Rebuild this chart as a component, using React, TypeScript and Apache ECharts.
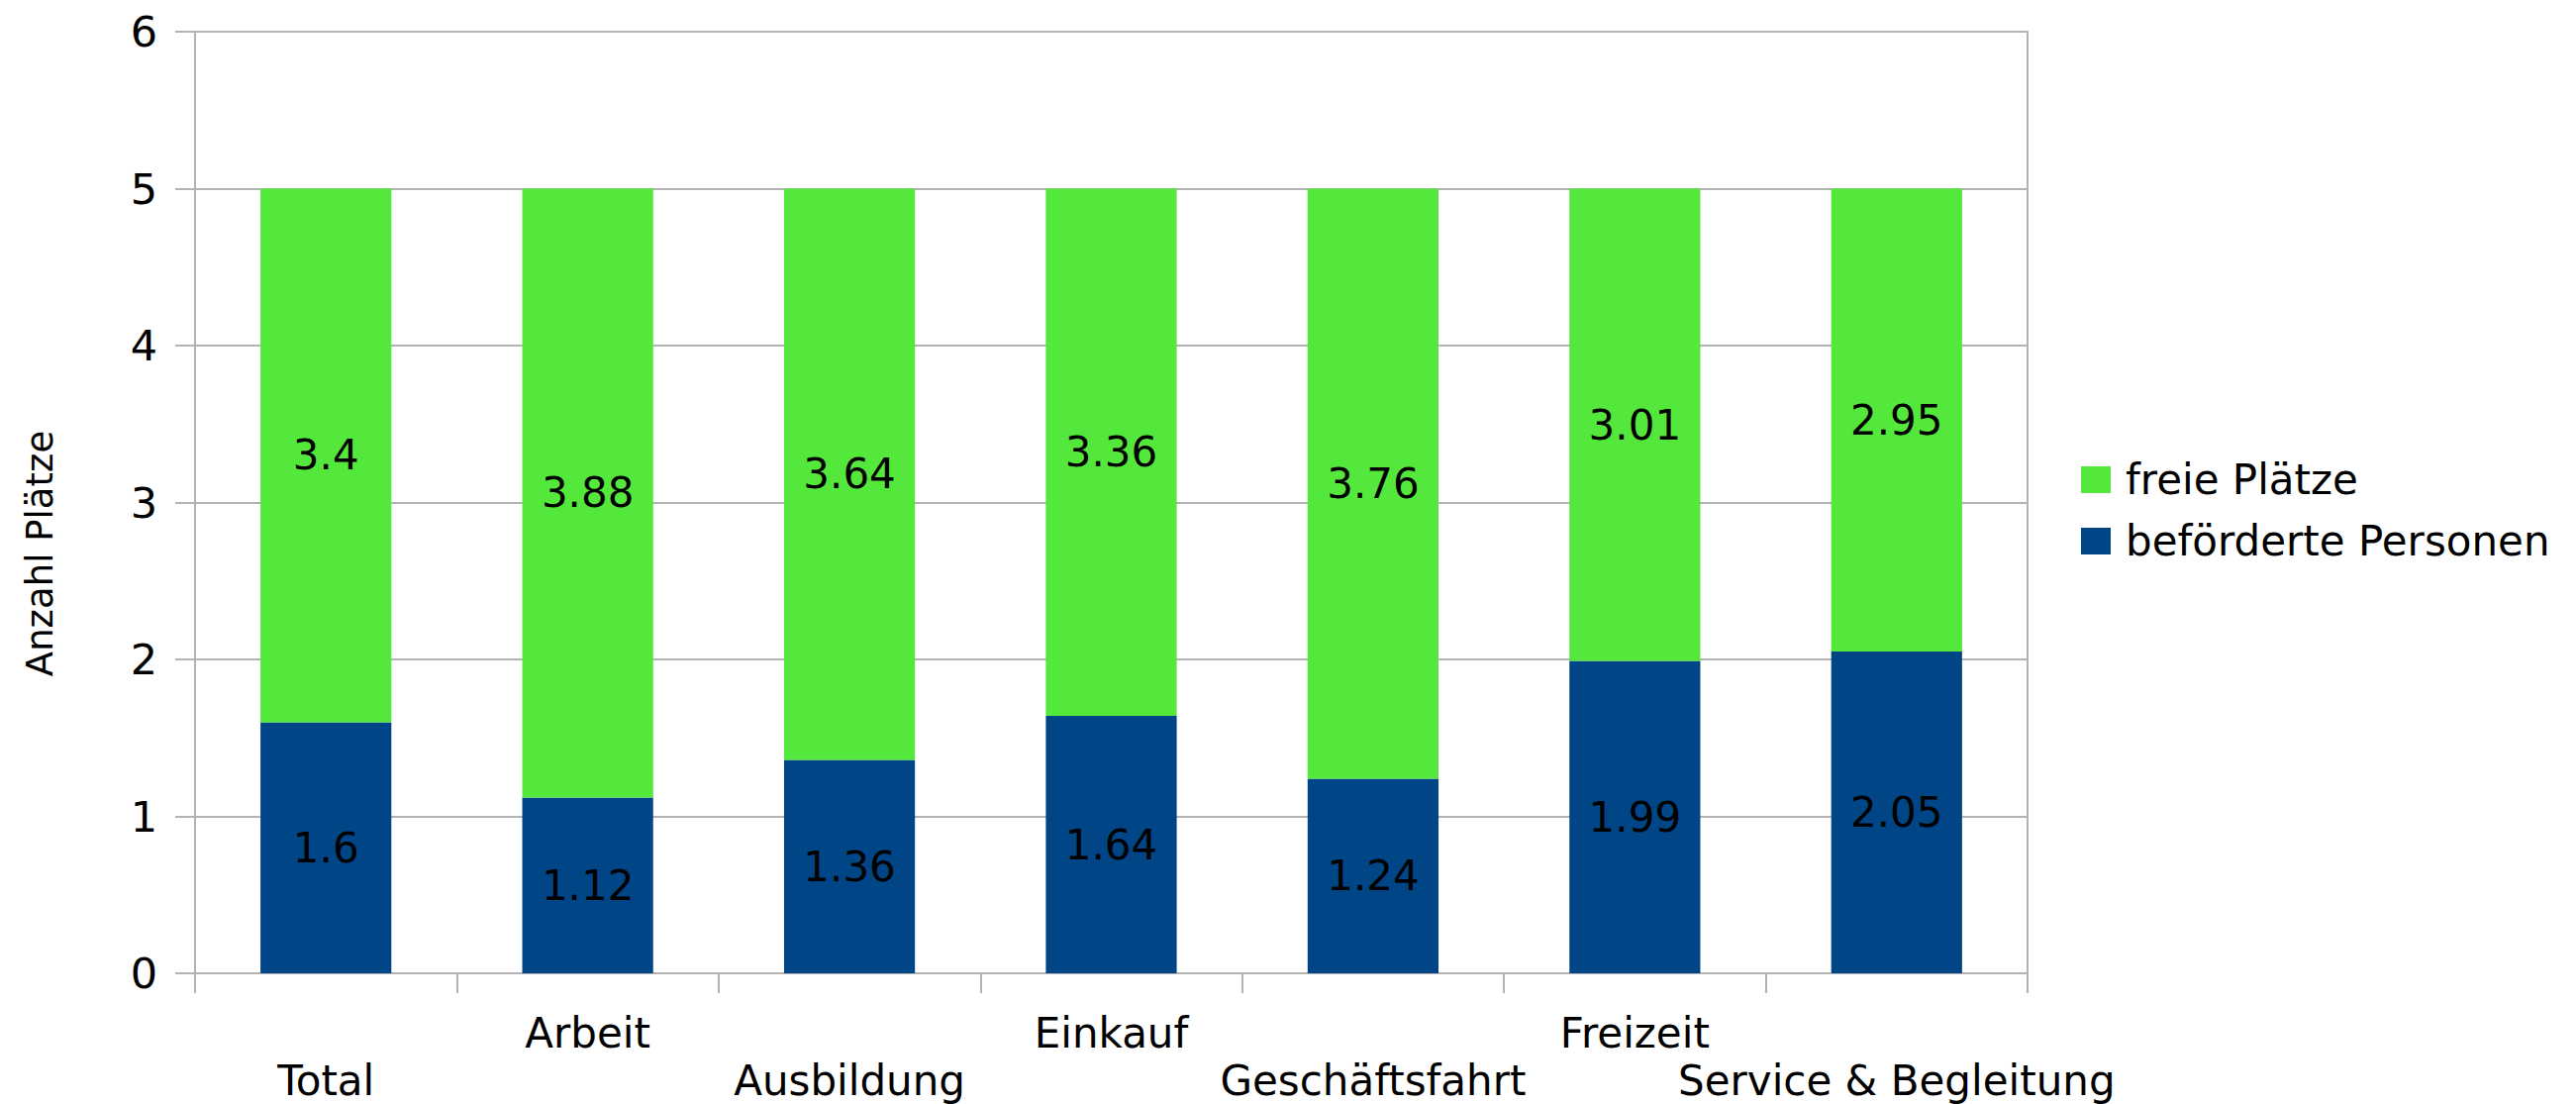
import React, { useEffect, useRef } from "react";
import * as echarts from "echarts";

const categories = ["Total", "Arbeit", "Ausbildung", "Einkauf", "Geschäftsfahrt", "Freizeit", "Service & Begleitung"];
const befoerdertePersonen = [1.6, 1.12, 1.36, 1.64, 1.24, 1.99, 2.05];
const freiePlaetze = [3.4, 3.88, 3.64, 3.36, 3.76, 3.01, 2.95];
const seriesNames = ["beförderte Personen", "freie Plätze"];
const yAxisTitle = "Anzahl Plätze";

const FONT = "DejaVu Sans";
const GREEN = "#55e83c";
const BLUE = "#004586";
const GRID = "#b3b3b3";

export default function App() {
  const ref = useRef<HTMLDivElement>(null);
  useEffect(() => {
    document.body.style.margin = "0";
    const chart = echarts.init(ref.current!, null, { renderer: "svg" });
    const labelStyle = {
      show: true,
      position: "inside",
      color: "#000",
      fontFamily: FONT,
      fontSize: 42,
      formatter: (p: any) => String(p.value),
    };
    chart.setOption({
      animation: false,
      textStyle: { fontFamily: FONT },
      grid: { left: 197, right: 554, top: 32, bottom: 130, containLabel: false },
      graphic: [
        {
          type: "text",
          x: 40,
          y: 559,
          rotation: Math.PI / 2,
          style: {
            text: yAxisTitle,
            fontFamily: FONT,
            fontSize: 37,
            fill: "#000",
            align: "center",
            verticalAlign: "middle",
          },
        },
      ],
      legend: {
        orient: "vertical",
        left: 2097,
        top: 458,
        itemWidth: 30,
        itemHeight: 27,
        itemGap: 19,
        icon: "rect",
        data: [seriesNames[1], seriesNames[0]],
        textStyle: { fontFamily: FONT, fontSize: 42, color: "#000", lineHeight: 43, padding: [0, 0, 0, 10] },
      },
      xAxis: {
        type: "category",
        data: categories,
        axisLine: { show: true, lineStyle: { color: GRID, width: 2 } },
        axisTick: { show: true, length: 20, lineStyle: { color: GRID, width: 2 } },
        axisLabel: {
          interval: 0,
          margin: 36,
          color: "#000",
          fontFamily: FONT,
          fontSize: 42,
          lineHeight: 48,
          formatter: (v: string, i: number) => (i % 2 === 0 ? "\n" + v : v),
        },
      },
      yAxis: [
        {
          type: "value",
          min: 0,
          max: 6,
          interval: 1,
          axisLine: { show: true, lineStyle: { color: GRID, width: 2 } },
          axisTick: { show: true, length: 20, lineStyle: { color: GRID, width: 2 } },
          splitLine: { show: true, lineStyle: { color: GRID, width: 2 } },
          axisLabel: { margin: 38, color: "#000", fontFamily: FONT, fontSize: 43 },
        },
        {
          type: "value",
          min: 0,
          max: 6,
          interval: 1,
          position: "right",
          axisLine: { show: true, lineStyle: { color: GRID, width: 2 } },
          axisTick: { show: false },
          splitLine: { show: false },
          axisLabel: { show: false },
        },
      ],
      series: [
        {
          name: seriesNames[0],
          type: "bar",
          stack: "total",
          data: befoerdertePersonen,
          barCategoryGap: "50%",
          itemStyle: { color: BLUE },
          label: labelStyle,
        },
        {
          name: seriesNames[1],
          type: "bar",
          stack: "total",
          data: freiePlaetze,
          barCategoryGap: "50%",
          itemStyle: { color: GREEN },
          label: labelStyle,
        },
      ],
    });
    return () => chart.dispose();
  }, []);
  return <div ref={ref} style={{ width: 2602, height: 1115 }} />;
}
